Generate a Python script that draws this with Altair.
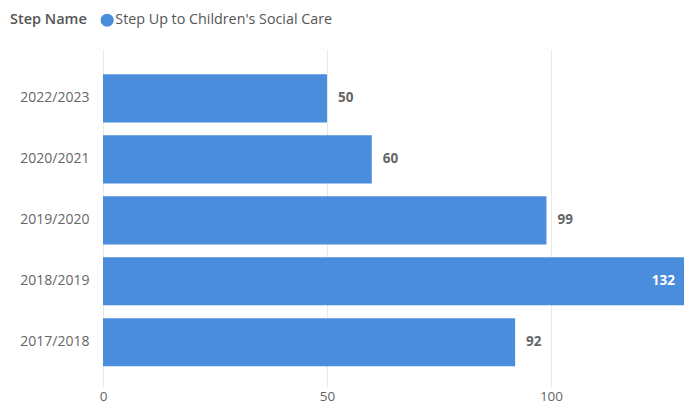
import altair as alt
import pandas as pd

years = ["2022/2023", "2020/2021", "2019/2020", "2018/2019", "2017/2018"]
values = [50, 60, 99, 132, 92]
series = ["Step Up to Children's Social Care"] * 5

df = pd.DataFrame({"Year": years, "Value": values, "Step Name": series})

FONT = "Open Sans"
BAR = "#4a8ddc"
GRAY = "#666666"
XMAX = 129.7

x_scale = alt.Scale(domain=[0, XMAX], nice=False, zero=True)
y_enc = alt.Y("Year:N", sort=years, title=None,
              scale=alt.Scale(paddingInner=0.21, paddingOuter=0.376, align=0.55),
              axis=alt.Axis(ticks=False, domain=False, labelFont=FONT, labelFontSize=14,
                            labelColor=GRAY, labelPadding=14))

base = alt.Chart(df)

bars = base.mark_bar(color=BAR, clip=True).encode(
    x=alt.X("Value:Q", scale=x_scale, title=None,
            axis=alt.Axis(values=[0, 50, 100], grid=True, gridColor="#e8e8e8", ticks=False,
                          domain=False, labelFont=FONT, labelFontSize=13.5, labelColor=GRAY,
                          labelPadding=2, labelFlush=False)),
    y=y_enc,
    color=alt.Color("Step Name:N", scale=alt.Scale(range=[BAR]),
                    legend=alt.Legend(orient="none", legendX=-93, legendY=-36, direction="horizontal",
                                      titleOrient="left", symbolType="circle", symbolSize=170,
                                      titleFont=FONT, titleFontSize=14.5, titleFontWeight=600,
                                      titleColor="#555555", labelFont=FONT, labelFontSize=14.3,
                                      labelColor="#555555", symbolOffset=0, labelOffset=1,
                                      labelLimit=400, titlePadding=13, symbolStrokeWidth=0)),
)

outside = base.transform_filter("datum.Value < 120").mark_text(
    align="left", dx=11, font=FONT, fontSize=13.5, fontWeight="bold", color=GRAY
).encode(x=alt.X("Value:Q", scale=x_scale), y=alt.Y("Year:N", sort=years), text="Value:Q")

inside = base.transform_filter("datum.Value >= 120").transform_calculate(
    lx=f"min(datum.Value, {XMAX})"
).mark_text(
    align="right", dx=-9, font=FONT, fontSize=13.5, fontWeight="bold", color="white"
).encode(x=alt.X("lx:Q", scale=x_scale), y=alt.Y("Year:N", sort=years), text="Value:Q")

chart = (bars + outside + inside).properties(
    width=581, height=338,
    autosize=alt.AutoSizeParams(type="none"),
    padding={"left": 95, "top": 41, "right": 0, "bottom": 17},
).configure_view(stroke=None)

chart.save("out.html", embed_options={"renderer": "svg", "actions": False})
